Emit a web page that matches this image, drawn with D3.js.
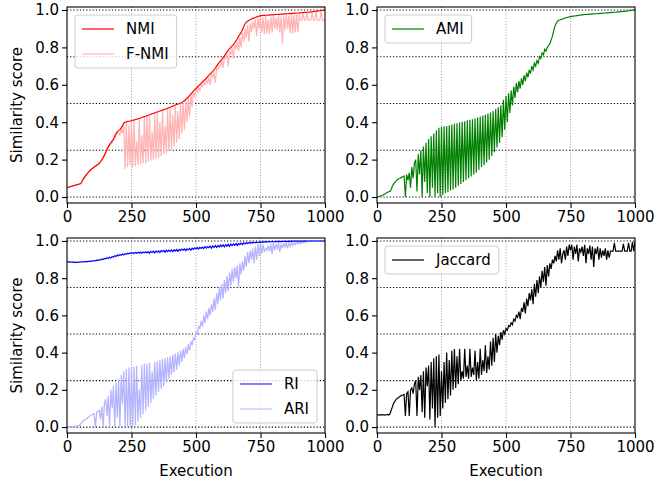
<!DOCTYPE html>
<html>
<head>
<meta charset="utf-8">
<script src="https://cdn.jsdelivr.net/npm/d3@7"></script>
<style>
  html, body { margin: 0; padding: 0; background: #fff; }
  svg { display: block; font-family: "DejaVu Sans", sans-serif; }
</style>
</head>
<body>
<svg id="chart" width="655" height="483"></svg>
<script>
// executions sampled every 5 runs, 0..1000
const step = 5;
const xTicks = [0, 250, 500, 750, 1000];
const yTicks = [0, 0.2, 0.4, 0.6, 0.8, 1.0];
const refLines = [0, 0.25, 0.5, 0.75, 1.0];
const vGrid = [250, 500, 750];

const nmi = [
  0.050,0.052,0.054,0.056,0.058,0.060,0.062,0.064,0.066,0.068,
  0.070,0.074,0.090,0.100,0.110,0.120,0.128,0.136,0.143,0.150,
  0.155,0.160,0.165,0.170,0.175,0.180,0.190,0.200,0.210,0.225,
  0.240,0.255,0.270,0.280,0.290,0.300,0.310,0.325,0.340,0.350,
  0.355,0.360,0.370,0.380,0.395,0.400,0.402,0.404,0.405,0.406,
  0.408,0.410,0.412,0.414,0.416,0.418,0.420,0.422,0.425,0.428,
  0.430,0.432,0.435,0.437,0.440,0.442,0.445,0.447,0.450,0.452,
  0.455,0.457,0.460,0.462,0.465,0.467,0.470,0.472,0.475,0.478,
  0.480,0.483,0.486,0.489,0.492,0.495,0.497,0.500,0.502,0.505,
  0.510,0.515,0.522,0.528,0.535,0.542,0.550,0.558,0.566,0.574,
  0.580,0.587,0.594,0.601,0.608,0.615,0.622,0.628,0.635,0.643,
  0.650,0.658,0.665,0.672,0.680,0.690,0.700,0.710,0.718,0.727,
  0.735,0.745,0.755,0.765,0.775,0.785,0.793,0.800,0.808,0.815,
  0.825,0.835,0.845,0.860,0.870,0.880,0.895,0.910,0.925,0.935,
  0.940,0.945,0.948,0.952,0.955,0.958,0.960,0.963,0.965,0.967,
  0.970,0.970,0.971,0.971,0.972,0.972,0.973,0.973,0.974,0.974,
  0.975,0.975,0.976,0.976,0.977,0.977,0.978,0.978,0.979,0.979,
  0.980,0.980,0.981,0.981,0.982,0.982,0.983,0.983,0.984,0.984,
  0.985,0.985,0.986,0.986,0.987,0.987,0.988,0.988,0.989,0.989,
  0.990,0.991,0.992,0.993,0.994,0.995,0.996,0.997,0.998,0.999,
  1.000
];

const fnmi = [
  0.050,0.052,0.054,0.056,0.058,0.060,0.062,0.064,0.066,0.068,
  0.070,0.074,0.088,0.098,0.108,0.118,0.126,0.134,0.141,0.148,
  0.153,0.158,0.163,0.168,0.172,0.178,0.186,0.196,0.206,0.220,
  0.235,0.250,0.262,0.272,0.285,0.290,0.305,0.310,0.330,0.340,
  0.345,0.330,0.365,0.340,0.380,0.150,0.400,0.160,0.380,0.170,
  0.405,0.160,0.408,0.165,0.300,0.170,0.415,0.175,0.330,0.180,
  0.428,0.180,0.430,0.190,0.434,0.195,0.350,0.200,0.440,0.205,
  0.452,0.210,0.400,0.220,0.460,0.230,0.380,0.235,0.470,0.245,
  0.478,0.255,0.440,0.270,0.487,0.290,0.460,0.310,0.498,0.340,
  0.505,0.360,0.518,0.400,0.530,0.430,0.545,0.480,0.560,0.540,
  0.575,0.560,0.590,0.570,0.600,0.590,0.612,0.600,0.630,0.610,
  0.640,0.600,0.655,0.640,0.670,0.610,0.690,0.680,0.705,0.700,
  0.725,0.690,0.745,0.740,0.765,0.700,0.780,0.760,0.800,0.740,
  0.815,0.790,0.830,0.780,0.855,0.800,0.880,0.830,0.900,0.850,
  0.920,0.830,0.930,0.880,0.940,0.900,0.950,0.860,0.955,0.900,
  0.965,0.880,0.960,0.870,0.968,0.875,0.950,0.870,0.965,0.880,
  0.970,0.900,0.960,0.890,0.972,0.880,0.965,0.820,0.970,0.890,
  0.975,0.900,0.970,0.875,0.978,0.875,0.975,0.880,0.978,0.880,
  0.980,0.945,0.946,0.980,0.946,0.947,0.984,0.946,0.946,0.946,
  0.985,0.946,0.946,0.990,0.945,0.945,0.945,0.993,0.945,0.945,
  0.945
];

const ami = [
  0.000,0.002,0.004,0.006,0.008,0.012,0.016,0.020,0.024,0.028,
  0.030,0.040,0.060,0.070,0.080,0.088,0.094,0.098,0.100,0.105,
  0.108,0.112,0.000,0.120,0.090,0.130,0.050,0.160,0.100,0.180,
  0.200,0.030,0.230,0.120,0.250,0.000,0.270,0.080,0.290,0.020,
  0.310,0.000,0.325,0.050,0.340,0.000,0.355,0.020,0.370,0.000,
  0.375,0.010,0.378,0.020,0.380,0.025,0.384,0.035,0.388,0.040,
  0.392,0.050,0.395,0.060,0.398,0.070,0.402,0.080,0.405,0.090,
  0.410,0.100,0.413,0.110,0.416,0.120,0.420,0.130,0.425,0.145,
  0.430,0.160,0.436,0.170,0.440,0.185,0.446,0.200,0.452,0.220,
  0.460,0.240,0.470,0.265,0.480,0.290,0.490,0.320,0.520,0.360,
  0.540,0.400,0.555,0.450,0.570,0.490,0.590,0.530,0.610,0.560,
  0.620,0.580,0.635,0.600,0.650,0.620,0.665,0.640,0.680,0.660,
  0.700,0.680,0.715,0.700,0.730,0.715,0.750,0.740,0.770,0.760,
  0.790,0.780,0.800,0.810,0.820,0.840,0.860,0.890,0.915,0.930,
  0.940,0.945,0.948,0.950,0.952,0.955,0.957,0.959,0.961,0.963,
  0.965,0.966,0.967,0.968,0.969,0.970,0.971,0.972,0.973,0.974,
  0.975,0.976,0.976,0.977,0.977,0.978,0.978,0.979,0.979,0.980,
  0.980,0.981,0.981,0.982,0.982,0.983,0.984,0.984,0.985,0.985,
  0.986,0.986,0.987,0.987,0.988,0.988,0.989,0.990,0.990,0.991,
  0.992,0.992,0.993,0.994,0.995,0.996,0.997,0.998,0.999,0.999,
  1.000
];

const ri = [
  0.889,0.888,0.886,0.888,0.885,0.887,0.884,0.886,0.885,0.887,
  0.886,0.888,0.887,0.889,0.888,0.890,0.889,0.891,0.890,0.893,
  0.892,0.895,0.893,0.897,0.895,0.900,0.898,0.903,0.900,0.906,
  0.904,0.910,0.906,0.913,0.909,0.917,0.913,0.921,0.917,0.924,
  0.920,0.927,0.923,0.930,0.925,0.932,0.928,0.934,0.931,0.936,
  0.934,0.937,0.933,0.938,0.934,0.939,0.935,0.940,0.933,0.941,
  0.937,0.942,0.936,0.943,0.934,0.944,0.938,0.945,0.936,0.946,
  0.940,0.947,0.938,0.948,0.942,0.949,0.940,0.950,0.943,0.951,
  0.944,0.952,0.942,0.953,0.946,0.954,0.944,0.955,0.948,0.956,
  0.950,0.957,0.948,0.958,0.952,0.960,0.950,0.961,0.955,0.963,
  0.958,0.964,0.957,0.966,0.960,0.967,0.959,0.969,0.962,0.970,
  0.964,0.972,0.962,0.973,0.966,0.975,0.965,0.976,0.968,0.978,
  0.970,0.979,0.968,0.980,0.972,0.982,0.971,0.983,0.975,0.984,
  0.977,0.986,0.976,0.987,0.980,0.988,0.981,0.990,0.984,0.991,
  0.986,0.992,0.988,0.993,0.989,0.994,0.990,0.994,0.991,0.995,
  0.993,0.995,0.993,0.996,0.994,0.996,0.995,0.997,0.995,0.997,
  0.996,0.997,0.996,0.998,0.997,0.998,0.997,0.998,0.998,0.998,
  0.998,0.998,0.998,0.999,0.998,0.999,0.999,0.999,0.999,0.999,
  0.999,0.999,0.999,0.999,1.000,0.999,1.000,1.000,1.000,1.000,
  1.000,1.000,1.000,1.000,1.000,1.000,1.000,1.000,1.000,1.000,
  1.000
];

const ari = [
  0.000,0.000,0.001,0.002,0.002,0.003,0.004,0.005,0.006,0.008,
  0.010,0.020,0.030,0.035,0.040,0.045,0.050,0.055,0.060,0.065,
  0.068,0.072,0.000,0.080,0.085,0.090,0.040,0.110,0.000,0.130,
  0.150,0.060,0.170,0.000,0.200,0.100,0.220,0.000,0.240,0.050,
  0.260,0.000,0.280,0.120,0.300,0.000,0.310,0.000,0.320,0.000,
  0.320,0.000,0.325,0.010,0.330,0.030,0.200,0.050,0.335,0.070,
  0.340,0.090,0.340,0.110,0.345,0.130,0.300,0.150,0.350,0.170,
  0.355,0.190,0.360,0.205,0.365,0.220,0.370,0.240,0.375,0.260,
  0.380,0.280,0.390,0.295,0.395,0.310,0.400,0.330,0.410,0.350,
  0.420,0.370,0.430,0.390,0.445,0.410,0.460,0.440,0.480,0.470,
  0.510,0.500,0.540,0.530,0.570,0.540,0.600,0.560,0.620,0.580,
  0.640,0.600,0.660,0.620,0.690,0.630,0.720,0.660,0.750,0.680,
  0.770,0.690,0.790,0.720,0.810,0.730,0.830,0.760,0.850,0.780,
  0.860,0.800,0.870,0.750,0.880,0.820,0.890,0.840,0.920,0.860,
  0.940,0.880,0.950,0.900,0.960,0.880,0.970,0.900,0.985,0.920,
  0.990,0.930,0.980,0.940,0.960,0.950,0.975,0.945,0.985,0.930,
  0.990,0.950,0.980,0.960,0.990,0.940,0.985,0.960,0.990,0.965,
  0.995,0.960,0.990,0.970,0.995,0.975,0.990,0.980,0.995,0.985,
  0.995,0.985,0.998,0.990,0.998,0.992,0.999,0.995,0.999,0.997,
  1.000,0.998,1.000,0.999,1.000,1.000,1.000,1.000,1.000,1.000,
  1.000
];

const jaccard = [
  0.065,0.066,0.064,0.067,0.065,0.066,0.064,0.066,0.068,0.065,
  0.070,0.090,0.110,0.130,0.140,0.150,0.155,0.160,0.165,0.170,
  0.172,0.175,0.060,0.180,0.190,0.060,0.200,0.210,0.180,0.230,
  0.250,0.060,0.270,0.200,0.280,0.080,0.300,0.050,0.320,0.220,
  0.330,0.040,0.350,0.100,0.370,0.000,0.380,0.050,0.390,0.060,
  0.300,0.100,0.350,0.130,0.400,0.150,0.360,0.170,0.410,0.200,
  0.420,0.210,0.380,0.230,0.420,0.250,0.300,0.260,0.420,0.270,
  0.330,0.260,0.420,0.270,0.320,0.280,0.410,0.250,0.350,0.260,
  0.420,0.280,0.360,0.300,0.440,0.290,0.380,0.310,0.460,0.330,
  0.480,0.350,0.500,0.400,0.490,0.440,0.510,0.470,0.520,0.500,
  0.530,0.520,0.545,0.540,0.560,0.550,0.580,0.570,0.600,0.590,
  0.620,0.580,0.640,0.620,0.670,0.610,0.690,0.650,0.720,0.680,
  0.740,0.660,0.770,0.700,0.790,0.720,0.810,0.750,0.840,0.780,
  0.860,0.760,0.870,0.810,0.880,0.850,0.900,0.880,0.920,0.890,
  0.950,0.900,0.960,0.880,0.930,0.950,0.900,0.970,0.920,0.980,
  0.950,0.980,0.900,0.970,0.930,0.980,0.890,0.960,0.940,0.970,
  0.920,0.980,0.880,0.960,0.930,0.975,0.900,0.970,0.860,0.960,
  0.930,0.970,0.900,0.960,0.910,0.950,0.920,0.960,0.900,0.950,
  0.910,0.945,0.945,0.945,0.990,0.945,0.945,0.945,0.945,0.945,
  0.945,0.985,0.945,0.945,0.945,0.990,0.945,0.945,0.995,0.945,
  1.000
];

// panels: series drawn in listed order, legend order given separately
const panels = [
  { left: 67, top: 7, bottom: 203, ylabel: true, xlabel: false,
    series: [{ name: 'F-NMI', values: fnmi, color: '#ffb3b3' }, { name: 'NMI', values: nmi, color: '#ff0000' }],
    legend: ['NMI', 'F-NMI'], legendPos: 'ul' },
  { left: 377, top: 7, bottom: 203, ylabel: false, xlabel: false,
    series: [{ name: 'AMI', values: ami, color: '#008000' }],
    legend: ['AMI'], legendPos: 'ul' },
  { left: 67, top: 238, bottom: 433, ylabel: true, xlabel: true,
    series: [{ name: 'ARI', values: ari, color: '#b3b3ff' }, { name: 'RI', values: ri, color: '#0000ff' }],
    legend: ['RI', 'ARI'], legendPos: 'lr' },
  { left: 377, top: 238, bottom: 433, ylabel: false, xlabel: true,
    series: [{ name: 'Jaccard', values: jaccard, color: '#000000' }],
    legend: ['Jaccard'], legendPos: 'ul' }
];

const svg = d3.select('#chart');
const W = 258;
const fontSize = 15;

panels.forEach(p => {
  const x = d3.scaleLinear().domain([0, 1000]).range([p.left, p.left + W]);
  const y = d3.scaleLinear().domain([-0.032, 1.016]).range([p.bottom, p.top]);
  const g = svg.append('g');

  // vertical grid
  g.selectAll('line.vg').data(vGrid).enter().append('line')
    .attr('x1', d => x(d)).attr('x2', d => x(d))
    .attr('y1', p.top).attr('y2', p.bottom)
    .attr('stroke', '#999').attr('stroke-width', 1).attr('stroke-dasharray', '1,1.8');

  // horizontal reference lines
  g.selectAll('line.hg').data(refLines).enter().append('line')
    .attr('x1', p.left).attr('x2', p.left + W)
    .attr('y1', d => y(d)).attr('y2', d => y(d))
    .attr('stroke', '#000').attr('stroke-width', 1.2).attr('stroke-dasharray', '1.2,2');

  const clipId = `clip-${p.left}-${p.top}`;
  svg.append('clipPath').attr('id', clipId).append('rect')
    .attr('x', p.left).attr('y', p.top).attr('width', W).attr('height', p.bottom - p.top);

  const line = d3.line().x((d, i) => x(i * step)).y(d => y(d));
  p.series.forEach(s => {
    g.append('path').datum(s.values)
      .attr('clip-path', `url(#${clipId})`)
      .attr('d', line)
      .attr('fill', 'none').attr('stroke', s.color).attr('stroke-width', 1.2);
  });

  // spines
  g.append('rect').attr('x', p.left).attr('y', p.top)
    .attr('width', W).attr('height', p.bottom - p.top)
    .attr('fill', 'none').attr('stroke', '#000').attr('stroke-width', 1.1);

  const xa = g.append('g').attr('transform', `translate(0,${p.bottom})`)
    .call(d3.axisBottom(x).tickValues(xTicks).tickSizeInner(5).tickSizeOuter(0).tickPadding(3).tickFormat(d3.format('d')));
  const ya = g.append('g').attr('transform', `translate(${p.left},0)`)
    .call(d3.axisLeft(y).tickValues(yTicks).tickSizeInner(5).tickSizeOuter(0).tickPadding(3).tickFormat(d3.format('.1f')));
  [xa, ya].forEach(a => {
    a.select('.domain').remove();
    a.selectAll('text').attr('font-size', fontSize).attr('font-family', '"DejaVu Sans", sans-serif').attr('fill', '#000');
    a.selectAll('line').attr('stroke', '#000').attr('stroke-width', 1.1);
  });

  if (p.ylabel) {
    g.append('text')
      .attr('transform', `translate(17,${(p.top + p.bottom) / 2}) rotate(-90)`)
      .attr('text-anchor', 'middle').attr('dominant-baseline', 'central')
      .attr('font-size', fontSize).text('Similarity score');
  }
  if (p.xlabel) {
    g.append('text')
      .attr('x', p.left + W / 2).attr('y', 476)
      .attr('text-anchor', 'middle').attr('font-size', fontSize).text('Execution');
  }

  // legend
  const rowH = 25;
  const lg = g.append('g');
  const items = p.legend.map((name, i) => {
    const s = p.series.find(v => v.name === name);
    const cy = 14 + i * rowH;
    lg.append('line').attr('x1', 7).attr('x2', 39).attr('y1', cy).attr('y2', cy)
      .attr('stroke', s.color).attr('stroke-width', 1.2);
    return lg.append('text').attr('x', 51).attr('y', cy).attr('dominant-baseline', 'central')
      .attr('font-size', fontSize).text(name);
  });
  const textW = d3.max(items, t => t.node().getComputedTextLength());
  const boxW = 51 + textW + 8;
  const boxH = 28 + (p.legend.length - 1) * rowH;
  lg.insert('rect', ':first-child').attr('width', boxW).attr('height', boxH).attr('rx', 3)
    .attr('fill', '#fff').attr('fill-opacity', 0.8).attr('stroke', '#cccccc').attr('stroke-width', 1);
  let bx, by;
  if (p.legendPos === 'ul') { bx = p.left + 8; by = p.top + 8; }
  else { bx = p.left + W - 8 - boxW; by = p.bottom - 10 - boxH; }
  lg.attr('transform', `translate(${bx},${by})`);
});
</script>
</body>
</html>
